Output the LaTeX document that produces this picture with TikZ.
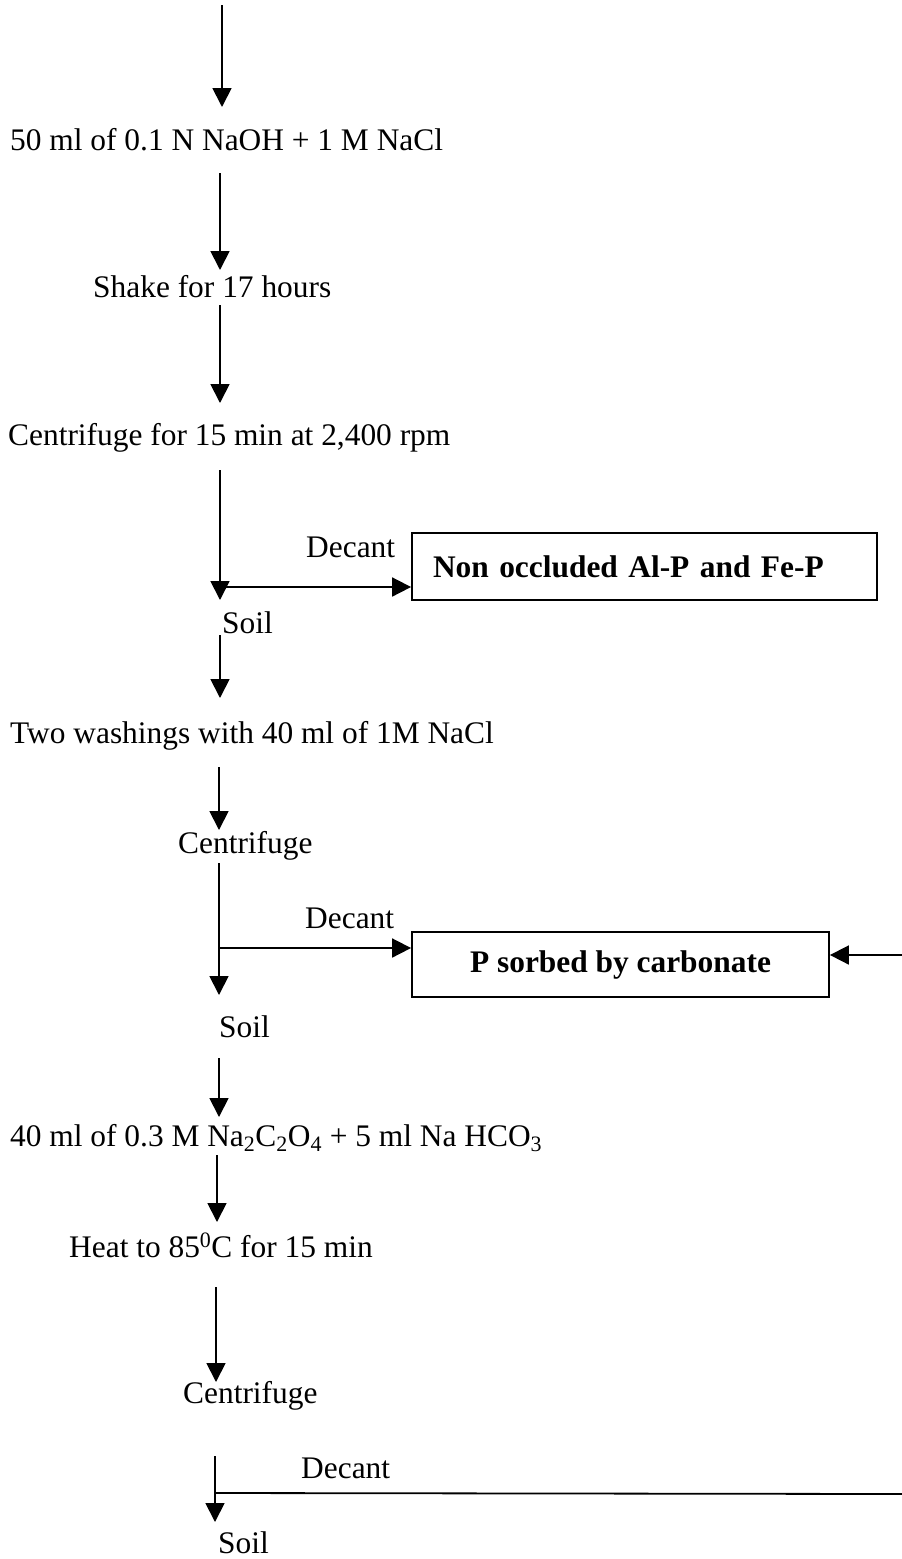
\documentclass[tikz,border=0pt]{standalone}
\usepackage{fontspec}
\setmainfont{Liberation Serif}
\usetikzlibrary{arrows.meta}
\begin{document}
\begin{tikzpicture}[x=1pt,y=-1pt,
  font=\fontsize{31.4}{36}\selectfont,
  lbl/.style={anchor=base west, inner sep=0pt},
  flow/.style={line width=1.8pt, -{Triangle[width=19pt,length=19pt]}},
  plain/.style={line width=1.8pt},
  box/.style={draw, line width=1.8pt, inner sep=0pt, font=\fontsize{31.4}{36}\selectfont\bfseries}]
\useasboundingbox (0,0) rectangle (902,1559);

% text nodes
\node[lbl] (t1) at (10,150) {50 ml of 0.1 N NaOH + 1 M NaCl};
\node[lbl] (t2) at (93,297) {Shake for 17 hours};
\node[lbl] (t3) at (8,445) {Centrifuge for 15 min at 2,400 rpm};
\node[lbl] (d1) at (306,557) {Decant};
\node[lbl] (s1) at (222,633) {Soil};
\node[lbl] (t4) at (10,743) {Two washings with 40 ml of 1M NaCl};
\node[lbl] (t5) at (178,853) {Centrifuge};
\node[lbl] (d2) at (305,928) {Decant};
\node[lbl] (s2) at (219,1037) {Soil};
\node[lbl] (t6) at (10,1146) {40 ml of 0.3 M Na\textsubscript{2}C\textsubscript{2}O\textsubscript{4} + 5 ml Na HCO\textsubscript{3}};
\node[lbl] (t7) at (69,1257) {Heat to 85\textsuperscript{0}C for 15 min};
\node[lbl] (t8) at (183,1403) {Centrifuge};
\node[lbl] (d3) at (301,1478) {Decant};
\node[lbl] (s3) at (218,1553) {Soil};

% boxes
\node[box, minimum width=465pt, minimum height=67pt, text width=423pt, align=left] (b1) at (644.5,566.5) {Non occluded Al-P and Fe-P};
\node[box, minimum width=417pt, minimum height=65pt] (b2) at (620.5,964.5) {P sorbed by carbonate};

% connector end points
\coordinate (p0a) at (222,5);    \coordinate (p0b) at (222,107);
\coordinate (p1a) at (220,173);  \coordinate (p1b) at (220,270);
\coordinate (p2a) at (220,305);  \coordinate (p2b) at (220,403);
\coordinate (p3a) at (220,470);  \coordinate (p3b) at (220,600);
\coordinate (j1)  at (220,587);
\coordinate (p4a) at (220,635);  \coordinate (p4b) at (220,698);
\coordinate (p5a) at (219,767);  \coordinate (p5b) at (219,830);
\coordinate (p6a) at (219,863);  \coordinate (p6b) at (219,995);
\coordinate (j2)  at (219,948);
\coordinate (rin) at (902,955);
\coordinate (p7a) at (219,1058); \coordinate (p7b) at (219,1117);
\coordinate (p8a) at (217,1155); \coordinate (p8b) at (217,1222);
\coordinate (p9a) at (216,1287); \coordinate (p9b) at (216,1382);
\coordinate (pAa) at (215,1456); \coordinate (pAb) at (215,1522);
\coordinate (j3)  at (215,1493);
\coordinate (j3e) at (902,1494);

% connectors
\draw[flow] (p0a) -- (p0b);
\draw[flow] (p1a) -- (p1b);
\draw[flow] (p2a) -- (p2b);
\draw[flow] (p3a) -- (p3b);
\draw[flow] (j1) -- (j1 -| b1.west);
\draw[flow] (p4a) -- (p4b);
\draw[flow] (p5a) -- (p5b);
\draw[flow] (p6a) -- (p6b);
\draw[flow] (j2) -- (j2 -| b2.west);
\draw[flow] (rin) -- (rin -| b2.east);
\draw[flow] (p7a) -- (p7b);
\draw[flow] (p8a) -- (p8b);
\draw[flow] (p9a) -- (p9b);
\draw[flow] (pAa) -- (pAb);
\draw[plain] (j3) -- (j3e);
\end{tikzpicture}
\end{document}
